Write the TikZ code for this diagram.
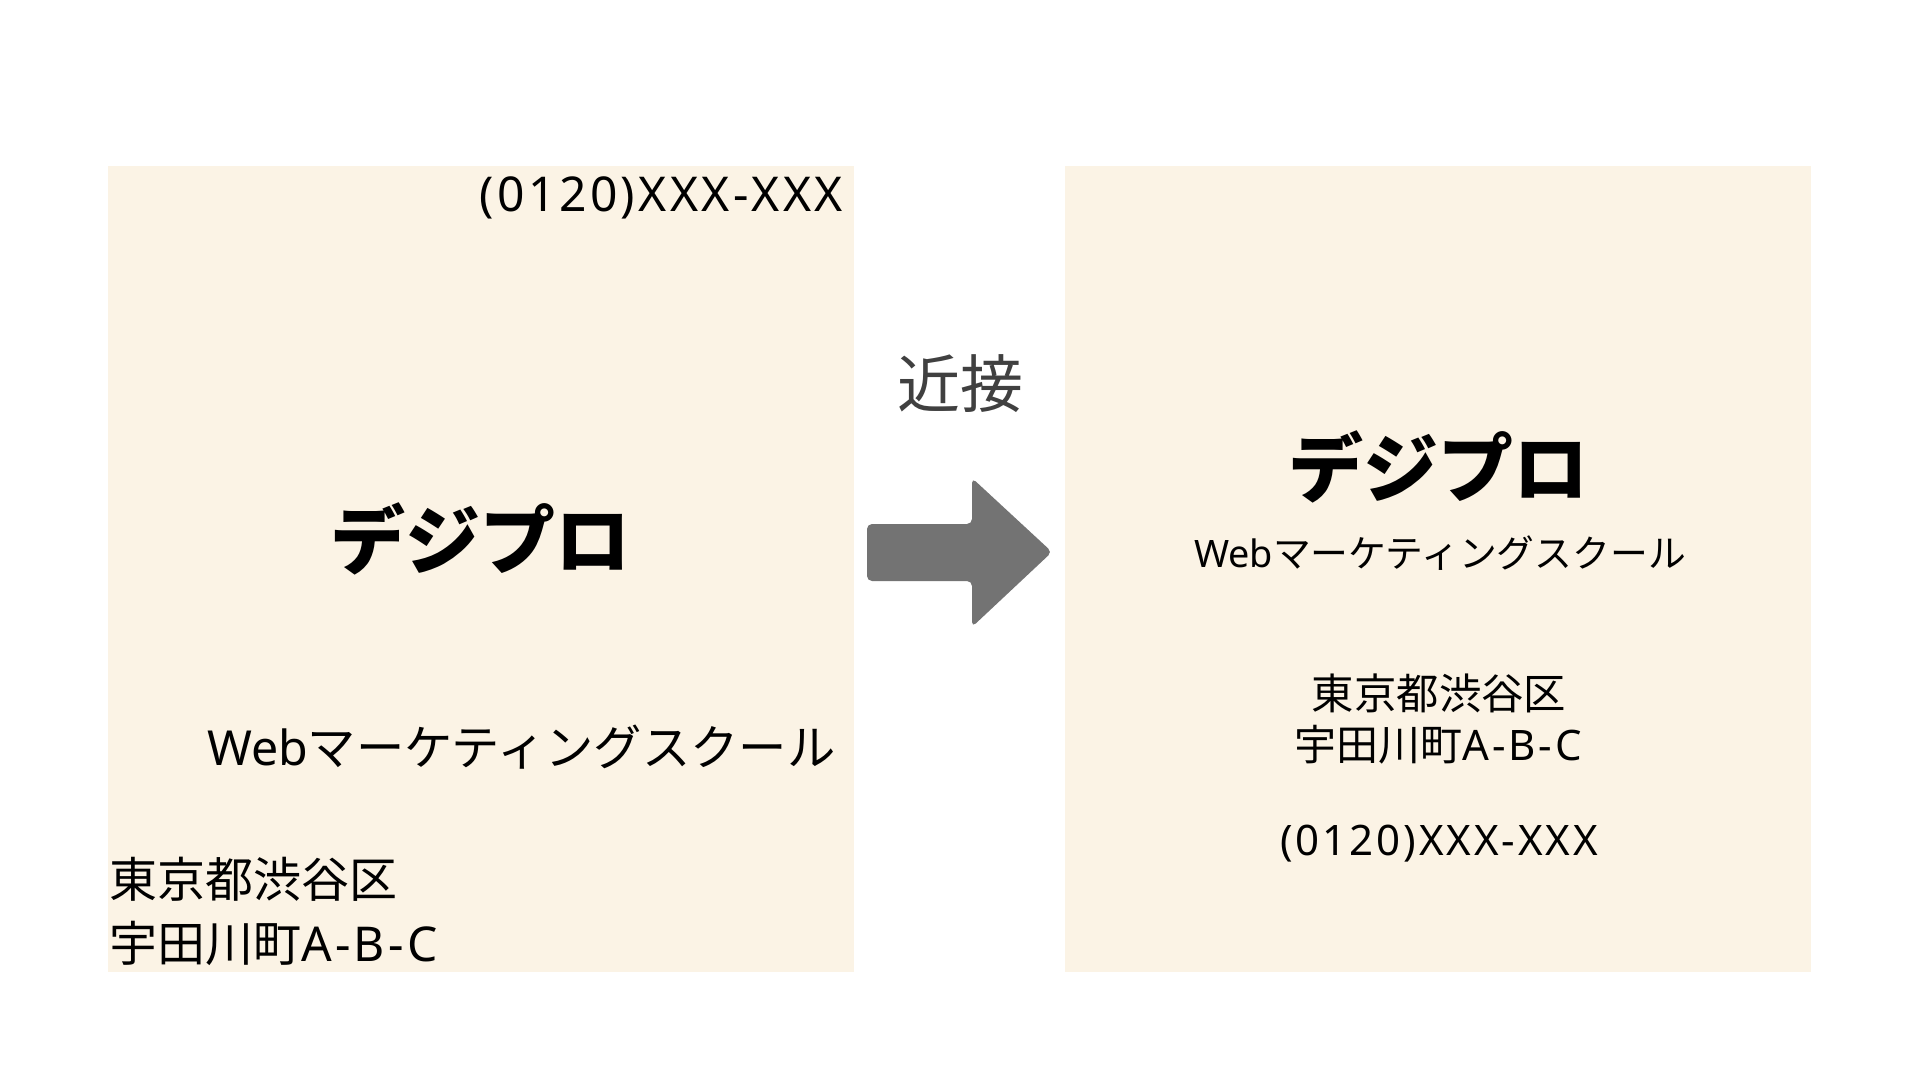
\documentclass[tikz,border=0pt]{standalone}
\usepackage{fontspec}
\newfontfamily\jp{Noto Sans CJK JP}
\newfontfamily\lat{Noto Sans}[LetterSpace=7]
\newfontfamily\latw{Noto Sans}
\newcommand\setfs[1]{\fontsize{#1pt}{#1pt}\selectfont}
\definecolor{panel}{HTML}{FBF3E5}
\definecolor{arrowgray}{HTML}{737373}
\definecolor{labelgray}{HTML}{404040}
\begin{document}
\begin{tikzpicture}[x=0.5pt,y=-0.5pt,
  txt/.style={inner sep=0pt, outer sep=0pt, text=black},
  card/.style={fill=panel, draw=none, inner sep=0pt, minimum width=373pt, minimum height=403pt, anchor=north west}]
\useasboundingbox (0,0) rectangle (1920,1080);
\fill[white] (0,0) rectangle (1920,1080);
% panels
\node[card] (lp) at (108,166) {};
\node[card] (rp) at (1065,166) {};
% left card
\node[txt, anchor=base east] (lphone) at (843,212) {\setfs{24}\lat (0120)XXX-XXX};
\node[txt] (ltitle) at (480,539) {\setfs{37.5}\jp\bfseries デジプロ};
\node[txt, anchor=base west] (lsub) at (207,765) {\setfs{24.15}{\latw Web}{\jp マーケティングスクール}};
\node[txt, anchor=base west] (laddra) at (109,897) {\setfs{24}\jp 東京都渋谷区};
\node[txt, anchor=base west] (laddrb) at (109,961) {\setfs{24}{\jp 宇田川町}{\lat A-B-C}};
% right card
\node[txt] (rtitle) at (1438,467) {\setfs{37.5}\jp\bfseries デジプロ};
\node[txt, anchor=base] (rsub) at (1440,567) {\setfs{18.9}{\latw Web}{\jp マーケティングスクール}};
\node[txt, anchor=base] (raddra) at (1439,709) {\setfs{21.2}\jp 東京都渋谷区};
\node[txt, anchor=base] (raddrb) at (1438,760) {\setfs{21}{\jp 宇田川町}{\lat A-B-C}};
\node[txt, anchor=base] (rphone) at (1439,855) {\setfs{21}\lat (0120)XXX-XXX};
% label and arrow
\node[txt, text=labelgray] (label) at (960,384) {\setfs{31.5}\jp 近接};
\fill[arrowgray, rounded corners=2.5pt] (867,524) -- (972,524) -- (972,478) -- (1052,552) -- (972,627) -- (972,581) -- (867,581) -- cycle;
\end{tikzpicture}
\end{document}
